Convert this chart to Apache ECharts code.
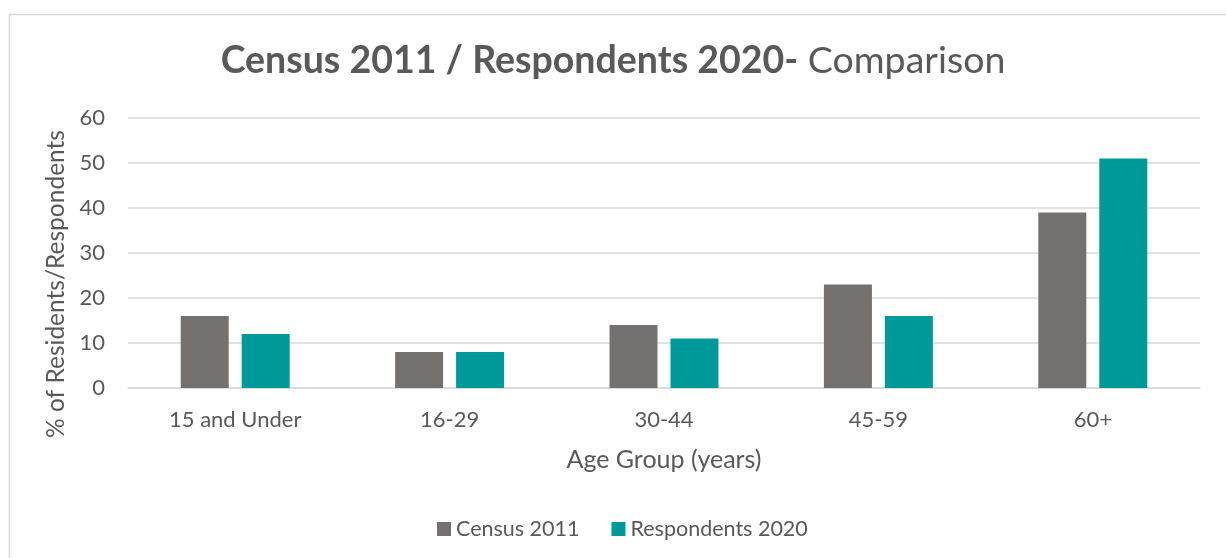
<!DOCTYPE html>
<html>
<head>
<meta charset="utf-8">
<script src="https://cdn.jsdelivr.net/npm/echarts@6/dist/echarts.min.js"></script>
<style>
html,body{margin:0;padding:0;background:#fff;}
#main{width:1226px;height:558px;}
</style>
</head>
<body>
<div id="main"></div>
<script>
var categories = ['15 and Under', '16-29', '30-44', '45-59', '60+'];
var census2011 = [16, 8, 14, 23, 39];
var respondents2020 = [12, 8, 11, 16, 51];
var yTicks = { min: 0, max: 60, interval: 10 };

var FONT = 'Lato';
var TXT = '#595959';
var chart = echarts.init(document.getElementById('main'), null, { renderer: 'canvas' });
chart.setOption({
  animation: false,
  backgroundColor: '#ffffff',
  textStyle: { fontFamily: FONT },
  graphic: [{
    type: 'rect', left: 7, top: 12, silent: true,
    shape: { width: 1240, height: 560 },
    style: { fill: 'none', stroke: '#d9d9d9', lineWidth: 1.5 }
  }],
  title: {
    text: '{b|Census 2011 / Respondents 2020-}{n| Comparison}',
    left: 'center', top: 37,
    textStyle: {
      rich: {
        b: { fontFamily: FONT, fontWeight: 'bold', fontSize: 37.5, color: TXT },
        n: { fontFamily: FONT, fontWeight: 'normal', fontSize: 37.5, color: TXT }
      }
    }
  },
  legend: {
    bottom: 13, left: 432,
    itemWidth: 14, itemHeight: 14, itemGap: 32,
    icon: 'rect',
    textStyle: { fontFamily: FONT, fontSize: 21.5, color: TXT },
    data: ['Census 2011', 'Respondents 2020']
  },
  grid: { left: 128, right: 26, top: 118, bottom: 170 },
  xAxis: {
    type: 'category', data: categories,
    name: 'Age Group (years)', nameLocation: 'middle', nameGap: 59,
    nameTextStyle: { fontFamily: FONT, fontSize: 25, color: TXT },
    axisLine: { lineStyle: { color: '#d9d9d9', width: 1.5 } },
    axisTick: { show: false },
    axisLabel: { fontFamily: FONT, fontSize: 22, color: TXT, margin: 21 }
  },
  yAxis: {
    type: 'value', min: yTicks.min, max: yTicks.max, interval: yTicks.interval,
    name: '% of Residents/Respondents', nameLocation: 'middle', nameGap: 54,
    nameTextStyle: { fontFamily: FONT, fontSize: 24.5, color: TXT, padding: [0, 62, 0, 0] },
    axisLine: { show: false }, axisTick: { show: false },
    splitLine: { lineStyle: { color: '#d9d9d9', width: 1.5 } },
    axisLabel: { fontFamily: FONT, fontSize: 22, color: TXT, margin: 23 }
  },
  series: [
    { name: 'Census 2011', type: 'bar', data: census2011, barWidth: 48, barGap: '27%',
      itemStyle: { color: '#767171' } },
    { name: 'Respondents 2020', type: 'bar', data: respondents2020, barWidth: 48,
      itemStyle: { color: '#009999' } }
  ]
});
</script>
</body>
</html>
